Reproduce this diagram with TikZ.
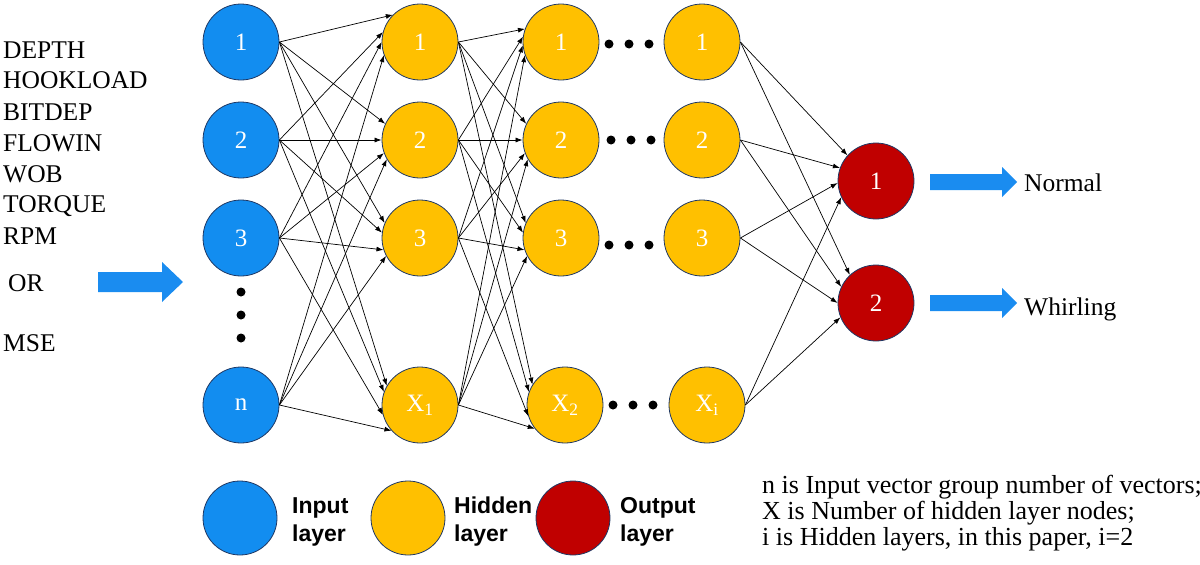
\documentclass[tikz,border=0pt]{standalone}
\usepackage{fontspec}
\setmainfont{Liberation Serif}
\newfontfamily\legendfont{Liberation Sans}
\usetikzlibrary{arrows.meta}
\definecolor{inblue}{RGB}{18,141,240}
\definecolor{hidyel}{RGB}{255,192,0}
\definecolor{outred}{RGB}{192,0,0}
\definecolor{rim}{RGB}{31,56,100}
\definecolor{arrblue}{RGB}{26,140,240}
\begin{document}
\begin{tikzpicture}[x=1pt,y=-1pt,
  neuron/.style={circle,draw=rim,line width=0.8pt,minimum size=76pt,inner sep=0pt,text=white,font=\fontsize{25}{29}\selectfont},
  inn/.style={neuron,fill=inblue},
  hid/.style={neuron,fill=hidyel},
  outn/.style={neuron,fill=outred},
  legc/.style={circle,draw=rim,line width=0.8pt,minimum size=74pt,inner sep=0pt},
  conn/.style={-{Latex[length=7pt,width=5pt]},line width=0.7pt,black},
  dotn/.style={circle,fill=black,inner sep=0pt,minimum size=9pt},
  lbl/.style={anchor=base west,inner sep=0pt,font=\fontsize{25.5}{30}\selectfont},
  note/.style={anchor=base west,inner sep=0pt,font=\fontsize{26}{30}\selectfont},
  legt/.style={anchor=base west,inner sep=0pt,font=\legendfont\bfseries\fontsize{23}{27}\selectfont},
  blockarrow/.style={fill=arrblue,draw=none}]
\useasboundingbox (0,0) rectangle (1200,565);

% input labels
\node[lbl] (lDEPTH) at (3,58) {DEPTH};
\node[lbl] (lHOOK) at (3,88) {HOOKLOAD};
\node[lbl] (lBIT) at (3,120) {BITDEP};
\node[lbl] (lFLOW) at (3,151) {FLOWIN};
\node[lbl] (lWOB) at (3,182) {WOB};
\node[lbl] (lTOR) at (3,212) {TORQUE};
\node[lbl] (lRPM) at (3,244) {RPM};
\node[lbl] (lOR) at (8,291) {OR};
\node[lbl] (lMSE) at (3,351) {MSE};

% input block arrow
\fill[blockarrow] (98,272) -- (162,272) -- (162,262) -- (183,282) -- (162,302) -- (162,292) -- (98,292) -- cycle;

% neurons
\node[inn] (i1) at (241,42) {1};
\node[inn] (i2) at (241,140) {2};
\node[inn] (i3) at (241,238) {3};
\node[inn] (in) at (241,405) {n};
\node[dotn] (id1) at (241,292) {};
\node[dotn] (id2) at (241,315) {};
\node[dotn] (id3) at (241,338) {};

\node[hid] (a1) at (420,42) {1};
\node[hid] (a2) at (420,140) {2};
\node[hid] (a3) at (420,238) {3};
\node[hid] (aX) at (420,405) {X\textsubscript{1}};

\node[hid] (b1) at (561,42) {1};
\node[hid] (b2) at (561,140) {2};
\node[hid] (b3) at (561,238) {3};
\node[hid] (bX) at (565,405) {X\textsubscript{2}};

\node[hid] (c1) at (702,42) {1};
\node[hid] (c2) at (702,140) {2};
\node[hid] (c3) at (702,238) {3};
\node[hid] (cX) at (707,405) {X\textsubscript{i}};

\node[outn] (o1) at (876,181) {1};
\node[outn] (o2) at (876,303) {2};

% dots between hidden layers
\foreach \r/\y/\dx in {1/44/0,2/140/2,3/245/0,X/405/4}{
  \node[dotn] (hd\r a) at (609+\dx,\y) {};
  \node[dotn] (hd\r b) at (629+\dx,\y) {};
  \node[dotn] (hd\r c) at (649+\dx,\y) {};
}

% input -> hidden 1
\foreach \s/\t/\a in {
  i1/a1/135, i2/a1/165, i3/a1/180, in/a1/200,
  i1/a2/155, i2/a2/180, i3/a2/200, in/a2/210,
  i1/a3/157, i2/a3/172, i3/a3/198, in/a3/208,
  i1/aX/150, i2/aX/160, i3/aX/195, in/aX/222}
  \draw[conn] (\s.east) -- (\t.\a);

% hidden 1 -> hidden 2
\foreach \s/\t/\a in {
  a1/b1/160, a2/b1/172, a3/b1/185, aX/b1/200,
  a1/b2/155, a2/b2/180, a3/b2/200, aX/b2/210,
  a1/b3/157, a2/b3/172, a3/b3/198, aX/b3/208,
  a1/bX/148, a2/bX/160, a3/bX/197, aX/bX/218}
  \draw[conn] (\s.east) -- (\t.\a);

% hidden i -> output
\foreach \s/\t/\a in {
  c1/o1/138, c2/o1/160, c3/o1/183, cX/o1/205,
  c1/o2/133, c2/o2/155, c3/o2/180, cX/o2/202}
  \draw[conn] (\s.east) -- (\t.\a);

% output block arrows and labels
\fill[blockarrow] (930,174) -- (1002,174) -- (1002,167) -- (1017,182) -- (1002,197) -- (1002,190) -- (930,190) -- cycle;
\fill[blockarrow] (930,295) -- (1002,295) -- (1002,288) -- (1017,303) -- (1002,318) -- (1002,311) -- (930,311) -- cycle;
\node[lbl] (lNormal) at (1024,191) {Normal};
\node[lbl] (lWhirl) at (1024,315) {Whirling};

% legend
\node[legc,fill=inblue] (legIn) at (240,518) {};
\node[legt] (legInA) at (292,513) {Input};
\node[legt] (legInB) at (292,541) {layer};
\node[legc,fill=hidyel] (legHid) at (408,518) {};
\node[legt] (legHidA) at (454,513) {Hidden};
\node[legt] (legHidB) at (454,541) {layer};
\node[legc,fill=outred] (legOut) at (573,518) {};
\node[legt] (legOutA) at (620,513) {Output};
\node[legt] (legOutB) at (620,541) {layer};

% notes
\node[note] (n1) at (762,493) {n is Input vector group number of vectors;};
\node[note] (n2) at (762,519) {X is Number of hidden layer nodes;};
\node[note] (n3) at (762,545) {i is Hidden layers, in this paper, i=2};
\end{tikzpicture}
\end{document}
